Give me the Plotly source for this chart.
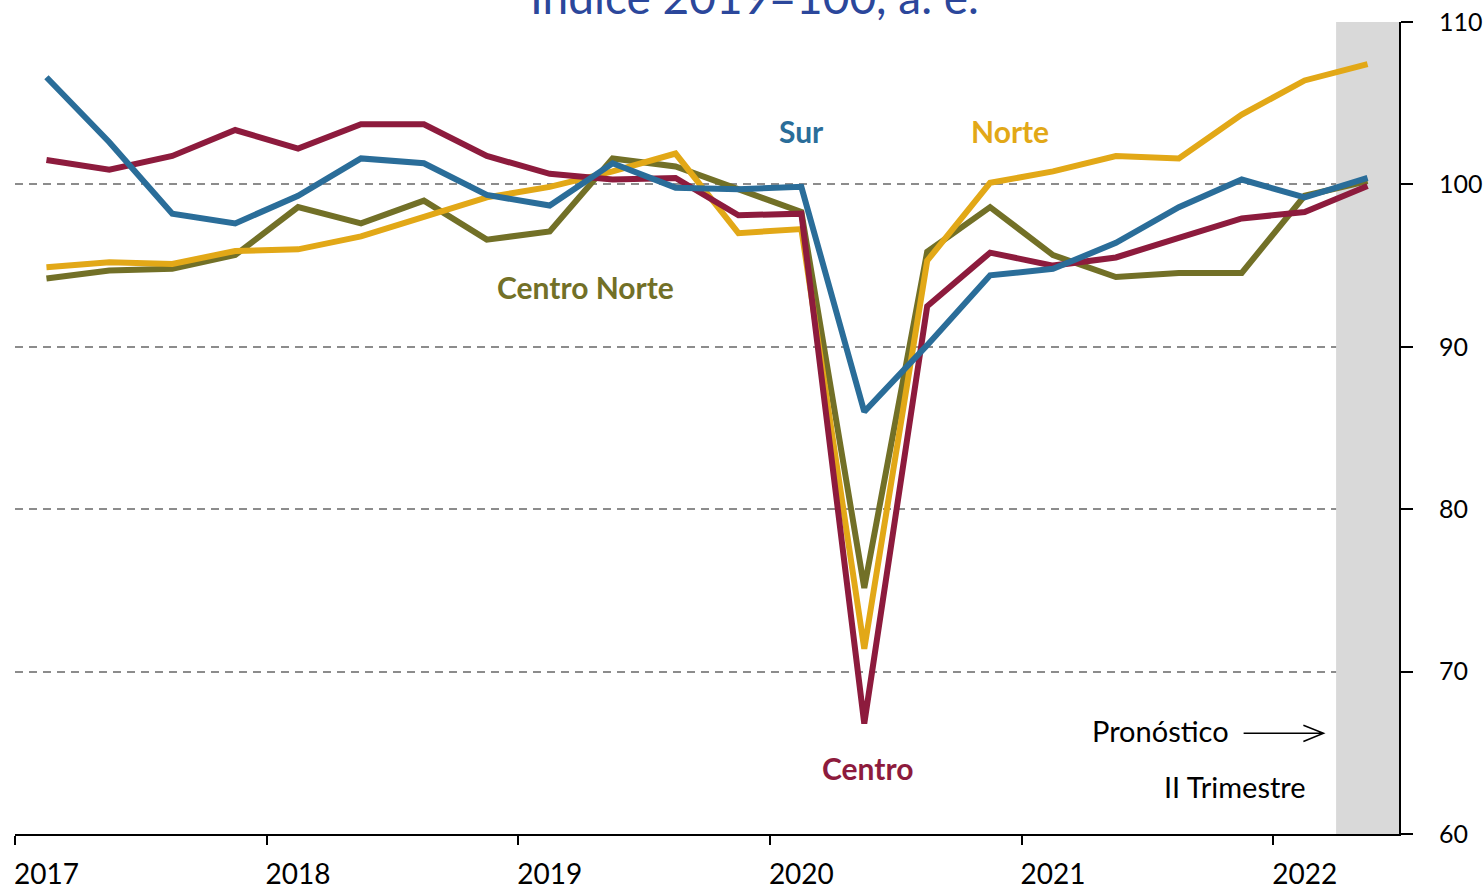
import plotly.graph_objects as go

# Quarterly index (2019=100, s.a.), 2017Q1 .. 2022Q2 (last = forecast)
quarters = ["2017T1","2017T2","2017T3","2017T4","2018T1","2018T2","2018T3","2018T4",
            "2019T1","2019T2","2019T3","2019T4","2020T1","2020T2","2020T3","2020T4",
            "2021T1","2021T2","2021T3","2021T4","2022T1","2022T2"]
years = ["2017", "2018", "2019", "2020", "2021", "2022"]

sur = [106.6, 102.6, 98.2, 97.6, 99.3, 101.6, 101.3, 99.35, 98.7, 101.3, 99.8, 99.7,
       99.85, 86.0, 90.1, 94.4, 94.8, 96.4, 98.6, 100.3, 99.2, 100.4]
norte = [94.9, 95.2, 95.1, 95.9, 96.0, 96.8, 98.0, 99.2, 99.85, 100.8, 101.9, 97.0,
         97.25, 71.4, 95.3, 100.1, 100.8, 101.75, 101.6, 104.3, 106.4, 107.4]
centro = [101.5, 100.9, 101.75, 103.35, 102.2, 103.7, 103.7, 101.75, 100.65, 100.3, 100.4, 98.1,
          98.2, 66.8, 92.5, 95.8, 95.0, 95.5, 96.7, 97.9, 98.3, 99.9]
centro_norte = [94.2, 94.7, 94.8, 95.65, 98.6, 97.6, 99.0, 96.6, 97.1, 101.6, 101.1, 99.7,
                98.3, 75.15, 95.85, 98.6, 95.65, 94.3, 94.55, 94.55, 99.3, 100.2]

C_SUR = "#2A6D99"
C_NORTE = "#E2A817"
C_CENTRO = "#8D1B3D"
C_CN = "#727027"
FONT = "Lato"

x = list(range(len(quarters)))

fig = go.Figure()
for name, vals, col in [("Centro Norte", centro_norte, C_CN),
                        ("Norte", norte, C_NORTE),
                        ("Centro", centro, C_CENTRO),
                        ("Sur", sur, C_SUR)]:
    fig.add_trace(go.Scatter(x=x, y=vals, mode="lines", name=name,
                             line=dict(color=col, width=6), showlegend=False))

# forecast shading (last quarter)
fig.add_shape(type="rect", xref="x", yref="y", x0=20.5, x1=21.5, y0=60, y1=110,
              fillcolor="#D9D9D9", line=dict(width=0), layer="between")

# series labels
labels = [("Sur", 12.0, 103.3, C_SUR), ("Norte", 15.31, 103.3, C_NORTE),
          ("Centro Norte", 8.57, 93.66, C_CN), ("Centro", 13.05, 64.07, C_CENTRO)]
for t, lx, ly, c in labels:
    fig.add_annotation(x=lx, y=ly, text=f"<b>{t}</b>", showarrow=False,
                       font=dict(family=FONT, size=30, color=c))

fig.add_annotation(x=17.71, y=66.4, text="Pronóstico", showarrow=False,
                   font=dict(family=FONT, size=29, color="black"))
fig.add_annotation(x=18.9, y=62.9, text="II Trimestre", showarrow=False,
                   font=dict(family=FONT, size=29, color="black"))
# arrow
fig.add_shape(type="path", xref="x", yref="y",
              path="M 19.03,66.2 L 20.3,66.2 M 19.98,66.7 L 20.3,66.2 L 19.98,65.7",
              line=dict(color="black", width=1.5))

# title (partly cut at the top, as in the source)
fig.add_annotation(xref="paper", yref="paper", x=0.534, y=1, yanchor="bottom",
                   yshift=-4, text="Índice 2019=100, a. e.", showarrow=False,
                   font=dict(family=FONT, size=46, color="#2B479B"))

fig.update_layout(
    width=1483, height=889,
    margin=dict(l=15, r=84, t=22, b=55, autoexpand=False),
    plot_bgcolor="white", paper_bgcolor="white",
    font=dict(family=FONT, size=27, color="black"),
    xaxis=dict(range=[-0.5, 21.5], tickmode="array", tickvals=[0, 4, 8, 12, 16, 20],
               ticktext=years, ticks="outside", tickcolor="rgba(0,0,0,0)", ticklen=14,
               showgrid=False, zeroline=False, showline=True, linecolor="black", linewidth=2,
               automargin=False,
               minor=dict(tickmode="array", tickvals=[-0.5, 3.5, 7.5, 11.5, 15.5, 19.5],
                          ticks="outside", ticklen=9, tickwidth=2, tickcolor="black",
                          showgrid=False),
               tickfont=dict(family=FONT, size=28)),
    yaxis=dict(side="right", range=[60, 110], dtick=10, ticks="outside", ticklen=12,
               tickwidth=2, tickcolor="black", showline=True, linecolor="black", linewidth=2,
               showgrid=True, gridcolor="#8C8C8C", gridwidth=1.5, griddash="8px,6px",
               zeroline=False, ticklabelstandoff=21, automargin=False,
               ticklabeloverflow="allow",
               tickfont=dict(family=FONT, size=25)),
)

# remove the default page margin so the figure fills the 1483x889 window exactly
fig.write_html("out.html", config={"displayModeBar": False},
               post_script="document.body.style.margin='0';document.body.style.overflow='hidden';")
